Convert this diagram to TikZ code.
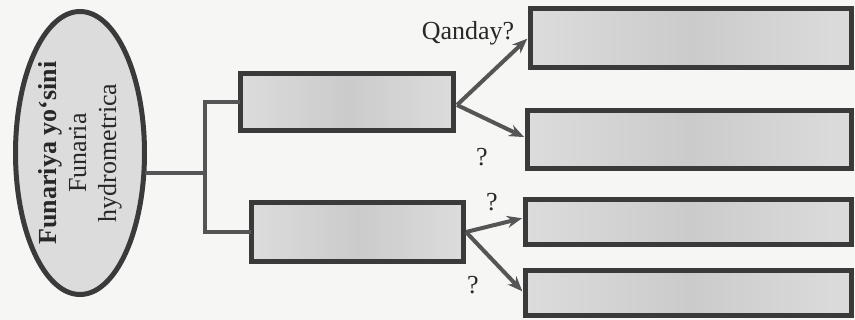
\documentclass[tikz,border=0pt]{standalone}
\usepackage{fontspec}
\setmainfont{Liberation Serif}
\usetikzlibrary{shapes.geometric,arrows.meta,calc}
\definecolor{bg}{RGB}{246,246,245}
\definecolor{edge}{RGB}{58,58,58}
\definecolor{wire}{RGB}{85,85,85}
\definecolor{boxlight}{RGB}{220,220,220}
\definecolor{boxdark}{RGB}{203,203,203}
\definecolor{txt}{RGB}{40,40,40}
\tikzset{
  blank/.style={draw=edge, line width=5pt, rectangle, inner sep=0pt,
    left color=boxlight, right color=boxlight, middle color=boxdark},
  wirestyle/.style={draw=wire, line width=4pt, line cap=rect},
  arrowstyle/.style={draw=wire, line width=4pt, -{Stealth[length=15pt,width=12pt]}, shorten >=1pt},
  lbl/.style={font=\fontsize{26pt}{30pt}\selectfont, text=txt, inner sep=0pt}
}
\begin{document}
\begin{tikzpicture}[x=1pt,y=-1pt]
\path[fill=bg] (0,0) rectangle (855,320);
\useasboundingbox (0,0) rectangle (855,320);

\node (el) [draw=edge, line width=5pt, ellipse, fill=boxlight, rotate=90,
  minimum width=283pt, minimum height=129pt, inner sep=0pt, align=center,
  font=\fontsize{26pt}{30pt}\selectfont, text=txt] at (80,153)
  {\textbf{Funariya yo‘sini}\\Funaria\\hydrometrica};

\node (A) [blank, minimum width=213pt, minimum height=57pt] at (347,102) {};
\node (B) [blank, minimum width=212pt, minimum height=59pt] at (357.5,232) {};
\node (C) [blank, minimum width=321pt, minimum height=59pt] at (691,38) {};
\node (D) [blank, minimum width=324pt, minimum height=58pt] at (689.5,139.5) {};
\node (E) [blank, minimum width=326pt, minimum height=45pt] at (688.5,222) {};
\node (F) [blank, minimum width=326pt, minimum height=45pt] at (688.5,293) {};

\coordinate (split) at (205,173);
\draw[wirestyle] (el.south |- split) -- (split);
\draw[wirestyle] (split) |- (A.west);
\draw[wirestyle] (split) |- (B.west);

\coordinate (aout) at ($(A.east)+(1,3)$);
\coordinate (bout) at (B.east);
\draw[arrowstyle] (aout) -- (C.west);
\draw[arrowstyle] (aout) -- ($(D.west)+(0,-2)$);
\draw[arrowstyle] (bout) -- ($(E.west)+(0,-4)$);
\draw[arrowstyle] (bout) -- ($(F.west)+(0,-1)$);

\node (q1) [lbl] at (468,33) {Qanday?};
\node (q2) [lbl] at (482,157) {?};
\node (q3) [lbl] at (492,202) {?};
\node (q4) [lbl] at (473,285) {?};
\end{tikzpicture}
\end{document}
